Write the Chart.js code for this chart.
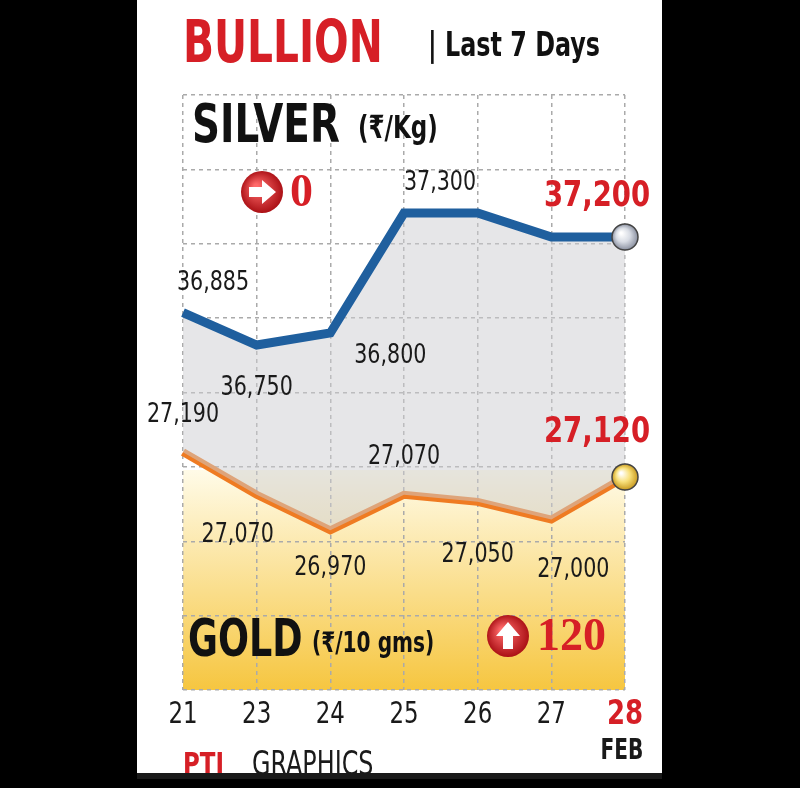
<!DOCTYPE html>
<html>
<head>
<meta charset="utf-8">
<script src="https://cdn.jsdelivr.net/npm/chart.js@4/dist/chart.umd.min.js"></script>
<style>
  body { margin: 0; background: #000; }
  #wrap { width: 800px; height: 788px; position: relative; }
</style>
</head>
<body>
<div id="wrap"><canvas id="c" width="800" height="788"></canvas></div>
<script>
//Dados
const days = ['21', '23', '24', '25', '26', '27', '28']
const silver = [36885, 36750, 36800, 37300, 37300, 37200, 37200]
const gold = [27190, 27070, 26970, 27070, 27050, 27000, 27120]
const silverLabels = ['36,885', '36,750', '36,800', '37,300', '', '', '37,200']
const goldLabels = ['27,190', '27,070', '26,970', '27,070', '27,050', '27,000', '27,120']

const NARROW = '"Liberation Sans Narrow", "DejaVu Sans Condensed", sans-serif'

//Offsets dos rótulos (px)
const silverOff = [[30, -30], [0, 43], [60, 23], [36, -30], null, null, [-28, -40]]
const goldOff = [[0, -37], [-19, 40], [0, 38], [0, -38], [0, 53], [22, 50], [-28, -44]]

// texto condensado: escala horizontal
function txt(ctx, t, x, y, font, color, sx) {
  ctx.save()
  ctx.font = font
  ctx.fillStyle = color
  ctx.translate(x, y)
  ctx.scale(sx, 1)
  ctx.fillText(t, 0, 0)
  ctx.restore()
}

const decor = {
  id: 'decor',
  beforeDraw(chart) {
    const ctx = chart.ctx
    ctx.save()
    ctx.fillStyle = '#000'
    ctx.fillRect(0, 0, 800, 788)
    ctx.fillStyle = '#fff'
    ctx.fillRect(137, 0, 525, 775)
    const g = ctx.createLinearGradient(0, 470, 0, 690)
    g.addColorStop(0, '#fffbe8')
    g.addColorStop(1, '#f6c640')
    ctx.fillStyle = g
    ctx.fillRect(183, 470, 442, 220)
    ctx.restore()
  },
  afterDraw(chart) {
    const ctx = chart.ctx
    const x = chart.scales.x
    const ys = chart.scales.ys
    const yg = chart.scales.yg
    ctx.save()
    ctx.textBaseline = 'middle'
    ctx.textAlign = 'left'
    txt(ctx, 'BULLION', 183, 47, 'bold 58px ' + NARROW, '#d61f26', 0.78)
    txt(ctx, '| Last 7 Days', 428, 47, 'bold 34px ' + NARROW, '#111', 0.78)
    txt(ctx, 'SILVER', 192, 128, 'bold 54px ' + NARROW, '#111', 0.8)
    txt(ctx, '(₹/Kg)', 358, 130, 'bold 32px ' + NARROW, '#111', 0.8)
    txt(ctx, 'GOLD', 188, 642, 'bold 52px ' + NARROW, '#111', 0.78)
    txt(ctx, '(₹/10 gms)', 312, 645, 'bold 28px ' + NARROW, '#111', 0.8)
    const icon = (cx, cy, up) => {
      const rg = ctx.createRadialGradient(cx - 6, cy - 6, 2, cx, cy, 22)
      rg.addColorStop(0, '#ff6a6a'); rg.addColorStop(1, '#a80d12')
      ctx.fillStyle = rg
      ctx.beginPath(); ctx.arc(cx, cy, 21, 0, Math.PI * 2); ctx.fill()
      ctx.fillStyle = '#fff'
      ctx.beginPath()
      if (up) {
        ctx.moveTo(cx, cy - 14); ctx.lineTo(cx + 12, cy); ctx.lineTo(cx + 5, cy); ctx.lineTo(cx + 5, cy + 13)
        ctx.lineTo(cx - 5, cy + 13); ctx.lineTo(cx - 5, cy); ctx.lineTo(cx - 12, cy)
      } else {
        ctx.moveTo(cx + 14, cy); ctx.lineTo(cx, cy - 12); ctx.lineTo(cx, cy - 5); ctx.lineTo(cx - 13, cy - 5)
        ctx.lineTo(cx - 13, cy + 5); ctx.lineTo(cx, cy + 5); ctx.lineTo(cx, cy + 12)
      }
      ctx.fill()
    }
    icon(262, 192, false)
    icon(508, 636, true)
    txt(ctx, '0', 290, 194, 'bold 46px "Liberation Serif", serif', '#d61f26', 1)
    txt(ctx, '120', 537, 638, 'bold 46px "Liberation Serif", serif', '#d61f26', 1)
    const ball = (cx, cy, c1, c2) => {
      const rg = ctx.createRadialGradient(cx - 4, cy - 4, 1, cx, cy, 13)
      rg.addColorStop(0, '#fff'); rg.addColorStop(0.5, c1); rg.addColorStop(1, c2)
      ctx.fillStyle = rg
      ctx.strokeStyle = '#444'; ctx.lineWidth = 1.5
      ctx.beginPath(); ctx.arc(cx, cy, 13, 0, Math.PI * 2); ctx.fill(); ctx.stroke()
    }
    ball(x.getPixelForValue(6), ys.getPixelForValue(silver[6]), '#d8dce4', '#8a90a0')
    ball(x.getPixelForValue(6), yg.getPixelForValue(gold[6]), '#f8e07a', '#c89a20')
    ctx.textAlign = 'center'
    const put = (labels, offs, data, scale) => {
      labels.forEach((t, i) => {
        if (!t) return
        const last = i === labels.length - 1
        txt(ctx, t, x.getPixelForValue(i) + offs[i][0], scale.getPixelForValue(data[i]) + offs[i][1],
          (last ? 'bold 36px ' : '27px ') + NARROW, last ? '#d61f26' : '#1a1a1a', 0.85)
      })
    }
    put(silverLabels, silverOff, silver, ys)
    put(goldLabels, goldOff, gold, yg)
    days.forEach((d, i) => {
      const last = i === days.length - 1
      txt(ctx, d, x.getPixelForValue(i), 715, (last ? 'bold 34px ' : '30px ') + NARROW,
        last ? '#d61f26' : '#1a1a1a', 0.85)
    })
    txt(ctx, 'FEB', 622, 752, 'bold 28px ' + NARROW, '#1a1a1a', 0.8)
    ctx.textAlign = 'left'
    txt(ctx, 'PTI', 183, 766, 'bold 30px ' + NARROW, '#d61f26', 0.85)
    txt(ctx, 'GRAPHICS', 252, 766, '34px ' + NARROW, '#1a1a1a', 0.78)
    ctx.fillStyle = '#1a1a1a'
    ctx.fillRect(137, 773, 525, 6)
    ctx.restore()
  }
}

new Chart(document.getElementById('c'), {
  type: 'line',
  data: {
    labels: days,
    datasets: [{
      label: 'Silver',
      data: silver,
      yAxisID: 'ys',
      borderColor: '#1f5f9e',
      borderWidth: 9,
      pointRadius: 0,
      tension: 0,
      fill: { target: 1 },
      backgroundColor: 'rgba(205,205,210,0.5)'
    }, {
      label: 'Gold',
      data: gold,
      yAxisID: 'yg',
      borderColor: '#ef7b22',
      borderWidth: 8,
      pointRadius: 0,
      tension: 0,
      fill: false
    }]
  },
  options: {
    responsive: false,
    animation: false,
    layout: { padding: { left: 183, right: 175, top: 95, bottom: 98 } },
    plugins: { legend: { display: false }, tooltip: { enabled: false } },
    scales: {
      x: {
        offset: false,
        ticks: { display: false },
        grid: { color: '#aaa', lineWidth: 1.5, drawTicks: false },
        border: { dash: [4, 4], display: false }
      },
      ys: {
        min: 35312, max: 37792,
        ticks: { display: false, stepSize: 310 },
        grid: { color: '#aaa', lineWidth: 1.5, drawTicks: false },
        border: { dash: [4, 4], display: false }
      },
      yg: {
        min: 26520, max: 28196,
        display: false
      }
    }
  },
  plugins: [decor]
})
</script>
</body>
</html>
